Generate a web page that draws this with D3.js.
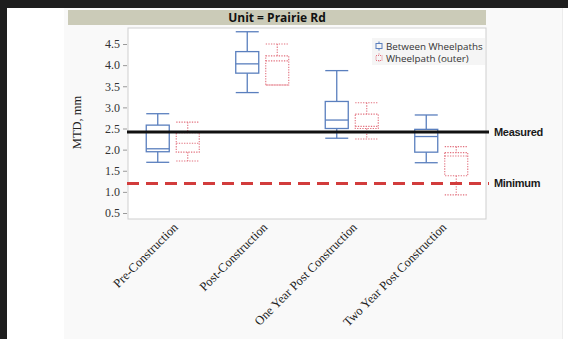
<!DOCTYPE html>
<html>
<head>
<meta charset="utf-8">
<script src="https://cdn.jsdelivr.net/npm/d3@7"></script>
<style>
  html, body { margin: 0; padding: 0; background: #ffffff; }
  svg { display: block; }
</style>
</head>
<body>
<script>
// Categories along the x axis
const categories = ["Pre-Construction", "Post-Construction", "One Year Post Construction", "Two Year Post Construction"];
const seriesNames = ["Between Wheelpaths", "Wheelpath (outer)"];

// Box statistics per category: [low whisker, Q1, median, Q3, high whisker]
const betweenWheelpaths = [
  [1.70, 1.95, 2.02, 2.58, 2.85],
  [3.35, 3.81, 4.03, 4.32, 4.79],
  [2.27, 2.50, 2.70, 3.14, 3.87],
  [1.69, 1.94, 2.31, 2.48, 2.82]
];
const wheelpathOuter = [
  [1.73, 1.94, 2.15, 2.40, 2.65],
  [3.53, 3.53, 4.10, 4.22, 4.50],
  [2.25, 2.50, 2.55, 2.84, 3.11],
  [0.93, 1.38, 1.85, 1.93, 2.07]
];

const yTicks = [0.5, 1.0, 1.5, 2.0, 2.5, 3.0, 3.5, 4.0, 4.5];

// Reference levels
const refLines = [
  { name: "Measured", value: 2.42 },
  { name: "Minimum", value: 1.2 }
];

const W = 568, H = 339;
const svg = d3.select("body").append("svg").attr("width", W).attr("height", H);
const serif = "'Liberation Serif', 'Times New Roman', serif";
const sans = "'Open Sans', 'DejaVu Sans', sans-serif";

// Page frame
svg.append("rect").attr("x", 0).attr("y", 0).attr("width", W).attr("height", H).attr("fill", "#ffffff");
svg.append("rect").attr("x", 64).attr("y", 7).attr("width", 498).attr("height", H - 7).attr("fill", "#f9f9f9");
svg.append("line").attr("x1", 562.5).attr("x2", 562.5).attr("y1", 7).attr("y2", H).attr("stroke", "#ececec");
svg.append("rect").attr("x", 0).attr("y", 0).attr("width", W).attr("height", 8).attr("fill", "#1e1e1e");
svg.append("rect").attr("x", 0).attr("y", 0).attr("width", 7).attr("height", H).attr("fill", "#1e1e1e");

const plot = { left: 128, right: 486, top: 28, bottom: 219 };

// Title band
svg.append("rect").attr("x", 68).attr("y", 10).attr("width", plot.right - 68).attr("height", 15)
  .attr("fill", "#cbcbb8");
svg.append("text").attr("x", (68 + plot.right) / 2).attr("y", 22)
  .attr("text-anchor", "middle").attr("font-family", sans)
  .attr("font-weight", "bold").attr("font-size", 12).attr("fill", "#111").text("Unit = Prairie Rd");

// Plot area
svg.append("rect").attr("x", plot.left).attr("y", plot.top)
  .attr("width", plot.right - plot.left).attr("height", plot.bottom - plot.top)
  .attr("fill", "#ffffff").attr("stroke", "#cfcfcf").attr("stroke-width", 1);

const x = d3.scaleBand().domain(categories).range([plot.left, plot.right]).padding(0);
const y = d3.scaleLinear().domain([0.5, 4.5]).range([213, 44]);
const offset = d3.scaleOrdinal().domain(seriesNames).range([-15, 15]);

// Y axis
const yAxis = d3.axisLeft(y).tickValues(yTicks).tickFormat(d3.format(".1f")).tickSize(4).tickPadding(3);
const gy = svg.append("g").attr("transform", `translate(${plot.left - 1},0)`).call(yAxis)
  .attr("font-family", serif).attr("font-size", 12);
gy.select(".domain").remove();
gy.selectAll(".tick line").attr("stroke", "#999");
gy.selectAll(".tick text").attr("fill", "#333");

svg.append("text").attr("transform", `translate(81,${(plot.top + plot.bottom) / 2 - 1}) rotate(-90)`)
  .attr("text-anchor", "middle").attr("font-family", serif)
  .attr("font-size", 12.5).attr("fill", "#222").text("MTD, mm");

// X axis labels (rotated)
const xAxis = d3.axisBottom(x).tickSize(0).tickPadding(0);
const gx = svg.append("g").attr("transform", `translate(0,${plot.bottom})`).call(xAxis)
  .attr("font-family", serif).attr("font-size", 12.5);
gx.select(".domain").remove();
gx.selectAll(".tick text")
  .attr("fill", "#222")
  .attr("text-anchor", "end").attr("dy", 0)
  .attr("transform", "translate(6,9) rotate(-45)");

// Box plots
const styles = {
  "Between Wheelpaths": { stroke: "#5a7fbe", dash: null, width: 1.3 },
  "Wheelpath (outer)": { stroke: "#e2727f", dash: "1.3,1.3", width: 1.1 }
};
const boxW = 23;

function drawBoxes(name, stats) {
  const st = styles[name];
  const g = svg.append("g").attr("fill", "none").attr("stroke", st.stroke)
    .attr("stroke-width", st.width).attr("stroke-dasharray", st.dash);
  categories.forEach((c, i) => {
    const [lo, q1, med, q3, hi] = stats[i];
    const cx = x(c) + x.bandwidth() / 2 + offset(name);
    const x0 = cx - boxW / 2, x1 = cx + boxW / 2;
    g.append("line").attr("x1", cx).attr("x2", cx).attr("y1", y(hi)).attr("y2", y(q3));
    g.append("line").attr("x1", cx).attr("x2", cx).attr("y1", y(q1)).attr("y2", y(lo));
    g.append("line").attr("x1", x0).attr("x2", x1).attr("y1", y(hi)).attr("y2", y(hi));
    g.append("line").attr("x1", x0).attr("x2", x1).attr("y1", y(lo)).attr("y2", y(lo));
    g.append("rect").attr("x", x0).attr("y", y(q3)).attr("width", boxW).attr("height", y(q1) - y(q3));
    g.append("line").attr("x1", x0).attr("x2", x1).attr("y1", y(med)).attr("y2", y(med));
  });
}
drawBoxes(seriesNames[0], betweenWheelpaths);
drawBoxes(seriesNames[1], wheelpathOuter);

// Legend
const lg = svg.append("g").attr("transform", "translate(372,38)");
lg.append("rect").attr("x", 0).attr("y", 0).attr("width", 113).attr("height", 27).attr("fill", "#f5f5f5");
seriesNames.forEach((n, i) => {
  const st = styles[n];
  const row = lg.append("g").attr("transform", `translate(4,${8 + i * 12})`);
  const ic = row.append("g").attr("fill", "none").attr("stroke", st.stroke).attr("stroke-width", 1)
    .attr("stroke-dasharray", st.dash ? "1,1" : null);
  ic.append("rect").attr("x", 0).attr("y", -2.5).attr("width", 6).attr("height", 5);
  ic.append("line").attr("x1", 3).attr("x2", 3).attr("y1", -4.5).attr("y2", -2.5);
  ic.append("line").attr("x1", 3).attr("x2", 3).attr("y1", 2.5).attr("y2", 4.5);
  row.append("text").attr("x", 10).attr("y", 3.5)
    .attr("font-family", sans).attr("font-size", 9.8)
    .attr("fill", "#333").text(n);
});

// Reference lines with labels
const refStyle = {
  Measured: { stroke: "#111", dash: null },
  Minimum: { stroke: "#d23c3c", dash: "12,7" }
};
refLines.forEach(r => {
  const st = refStyle[r.name];
  svg.append("line").attr("x1", plot.left - 1).attr("x2", 489)
    .attr("y1", y(r.value)).attr("y2", y(r.value))
    .attr("stroke", st.stroke).attr("stroke-width", 3).attr("stroke-dasharray", st.dash);
  svg.append("text").attr("x", 494).attr("y", y(r.value) + 4)
    .attr("font-family", "'Liberation Sans', Arial, sans-serif").attr("font-weight", "bold")
    .attr("font-size", 11).attr("fill", "#1a1a1a").attr("letter-spacing", -0.3).text(r.name);
});
</script>
</body>
</html>
